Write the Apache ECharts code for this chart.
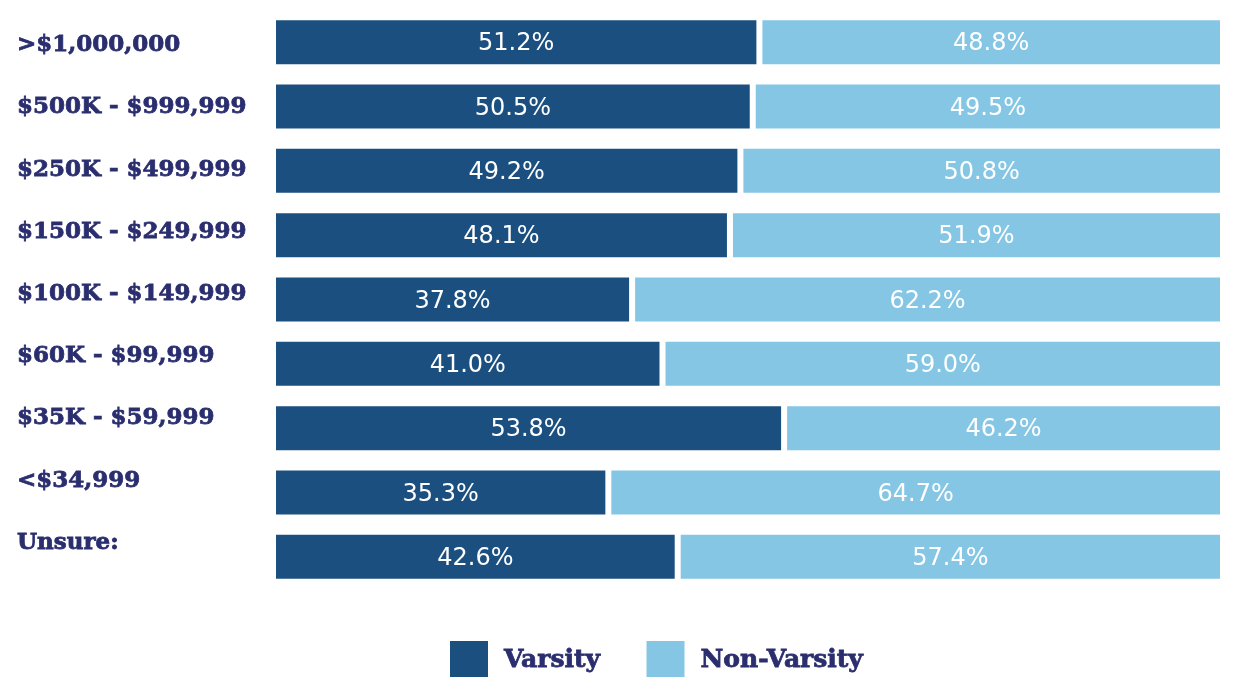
<!DOCTYPE html>
<html>
<head>
<meta charset="utf-8">
<script src="https://cdn.jsdelivr.net/npm/echarts@6/dist/echarts.min.js"></script>
<style>
  html, body { margin: 0; padding: 0; background: #fff; }
  #chart { width: 1235px; height: 677px; }
</style>
</head>
<body>
<div id="chart"></div>
<script>
const categories = ['>$1,000,000', '$500K - $999,999', '$250K - $499,999', '$150K - $249,999',
  '$100K - $149,999', '$60K - $99,999', '$35K - $59,999', '<$34,999', 'Unsure:']
const varsity = [51.2, 50.5, 49.2, 48.1, 37.8, 41.0, 53.8, 35.3, 42.6]
const nonVarsity = [48.8, 49.5, 50.8, 51.9, 62.2, 59.0, 46.2, 64.7, 57.4]

const navy = '#1b4f80'
const sky = '#85c6e4'
const ink = '#2a2e6e'

const chart = echarts.init(document.getElementById('chart'))

const pctLabel = {
  show: true,
  position: 'inside',
  offset: [0, 2],
  color: '#fff',
  fontFamily: 'DejaVu Sans',
  fontSize: 24,
  formatter: (p) => p.value.toFixed(1) + '%',
}

chart.setOption({
  animation: false,
  grid: [
    { left: 273, right: 12, top: 10, height: 579 },
    // labels sit on their own grid, their spacing is a bit tighter than the bars
    { left: 260, right: 12, top: 14, height: 560 },
  ],
  legend: {
    top: 639,
    left: 448,
    padding: 0,
    itemWidth: 40,
    itemHeight: 40,
    itemGap: 44,
    icon: 'rect',
    textStyle: {
      color: ink,
      fontFamily: 'DejaVu Serif',
      fontWeight: 'bold',
      fontSize: 25,
      textBorderColor: ink,
      textBorderWidth: 0.8,
      padding: [0, 0, 0, 10],
    },
    data: ['Varsity', 'Non-Varsity'],
  },
  xAxis: [
    { gridIndex: 0, type: 'value', min: 0, max: 100, show: false },
    { gridIndex: 1, type: 'value', min: 0, max: 100, show: false },
  ],
  yAxis: [
    { gridIndex: 0, type: 'category', data: categories, inverse: true, show: false },
    {
      gridIndex: 1,
      type: 'category',
      data: categories,
      inverse: true,
      axisLine: { show: false },
      axisTick: { show: false },
      axisLabel: {
        align: 'left',
        margin: 243,
        color: ink,
        fontFamily: 'DejaVu Serif',
        fontWeight: 'bold',
        fontSize: 23,
        textBorderColor: ink,
        textBorderWidth: 0.8,
      },
    },
  ],
  series: [
    {
      name: 'Varsity',
      type: 'bar',
      stack: 'total',
      barWidth: 50,
      itemStyle: { color: navy, borderColor: '#fff', borderWidth: 3 },
      label: pctLabel,
      data: varsity,
    },
    {
      name: 'Non-Varsity',
      type: 'bar',
      stack: 'total',
      barWidth: 50,
      itemStyle: { color: sky, borderColor: '#fff', borderWidth: 3 },
      label: pctLabel,
      data: nonVarsity,
    },
  ],
})
</script>
</body>
</html>
